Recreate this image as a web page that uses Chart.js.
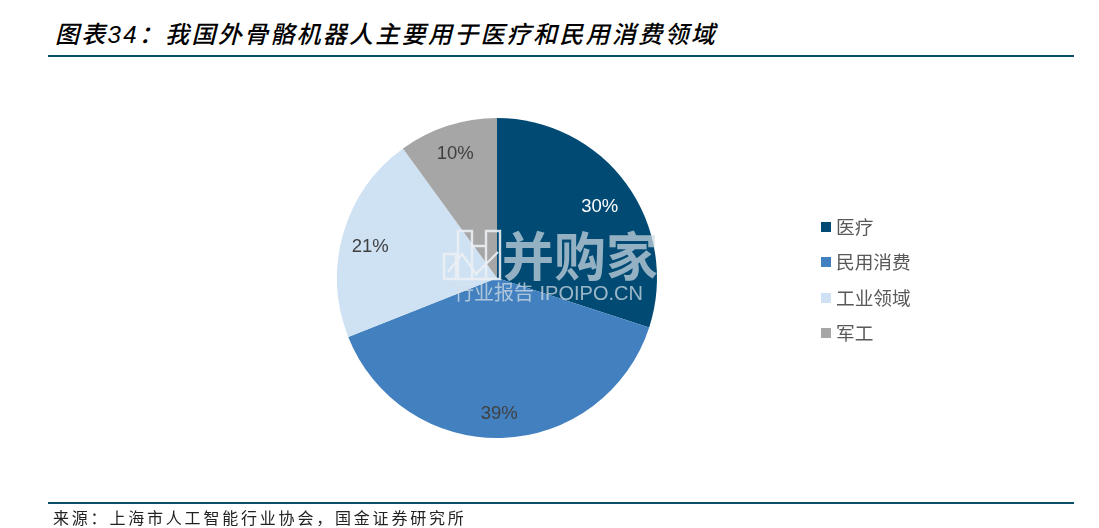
<!DOCTYPE html>
<html lang="zh"><head><meta charset="utf-8">
<script src="https://cdn.jsdelivr.net/npm/chart.js@4"></script>
<style>
html,body{margin:0;padding:0;background:#fff;width:1099px;height:528px;overflow:hidden}
body{position:relative;font-family:"Liberation Sans","Noto Sans CJK SC",sans-serif}
.abs{position:absolute;white-space:nowrap}
#title{left:55px;top:19px;font:italic 500 24px/32px "Liberation Sans","Noto Sans CJK SC";letter-spacing:2.28px;color:#000}
#r1{left:48px;top:55px;width:1026px;height:2px;background:#0b4f66}
#r2{left:48px;top:502px;width:1026px;height:2px;background:#0b4f66}
#source{left:53px;top:507px;font:400 16px/21px "Noto Sans CJK SC";letter-spacing:2.8px;color:#222}
#chartBox{left:0;top:0;width:1099px;height:528px}
#legend{left:821px;top:208px}
.li{position:absolute;left:0;height:36px;line-height:36px;font-size:18.7px;color:#595959;font-family:"Noto Sans CJK SC"}
.sw{position:absolute;left:0;top:14px;width:10px;height:10px}
.li span{margin-left:15px}
#wm1{left:502px;top:221px;font:700 52px/66px "Noto Sans CJK SC";color:rgba(205,218,226,.72)}
#wm2{left:454px;top:281px;font:400 20px/24px "Liberation Sans","Noto Sans CJK SC";color:rgba(215,225,232,.72)}
#wmIcon{left:442px;top:228px}
</style></head><body>
<div class="abs" id="title">图表34：我国外骨骼机器人主要用于医疗和民用消费领域</div>
<div class="abs" id="r1"></div>
<div class="abs" id="chartBox"><canvas id="c" width="1099" height="528"></canvas></div>
<div class="abs" id="legend"></div>
<svg class="abs" id="wmIcon" width="62" height="54" viewBox="0 0 62 54" fill="none" stroke="rgba(235,240,244,.9)" stroke-width="2.4">
<path d="M2 26h12v25H2zM16 3h14v48H16zM30 18h14v33H30zM44 3h14v48H44z"/><path d="M6 44l14-18 14 20 22-22"/></svg>
<div class="abs" id="wm1">并购家</div>
<div class="abs" id="wm2">行业报告 IPOIPO.CN</div>
<div class="abs" id="r2"></div>
<div class="abs" id="source">来源：上海市人工智能行业协会，国金证券研究所</div>
<script>
const categories = ["医疗","民用消费","工业领域","军工"];
const shares = [30,39,21,10];
const sliceColors = ["#004a74","#4280bf","#cfe2f3","#a6a6a6"];
const labelColors = ["#ffffff","#404040","#404040","#404040"];
const labelNudgeX = [-4,-2,0,-1];
const labelNudgeY = [6,4,6,1];

const pieLabels = {
  id:"pieLabels",
  afterDatasetsDraw(chart){
    const {ctx} = chart;
    const meta = chart.getDatasetMeta(0);
    ctx.save();
    ctx.font = '18.5px "Liberation Sans"';
    ctx.textAlign = "center";
    ctx.textBaseline = "middle";
    meta.data.forEach((arc,i)=>{
      const mid = (arc.startAngle+arc.endAngle)/2;
      const r = arc.outerRadius*0.825;
      ctx.fillStyle = labelColors[i];
      ctx.fillText(shares[i]+"%", arc.x+Math.cos(mid)*r+labelNudgeX[i], arc.y+Math.sin(mid)*r+labelNudgeY[i]);
    });
    ctx.restore();
  }
};

new Chart(document.getElementById("c"),{
  type:"pie",
  data:{labels:categories,datasets:[{data:shares,backgroundColor:sliceColors,borderWidth:0}]},
  options:{
    responsive:false,animation:false,
    layout:{padding:{left:337,right:442,top:118,bottom:90}},
    plugins:{legend:{display:false},tooltip:{enabled:false}}
  },
  plugins:[pieLabels]
});

const lg = document.getElementById("legend");
categories.forEach((name,i)=>{
  const d = document.createElement("div");
  d.className = "li";
  d.style.top = (i*35.4)+"px";
  d.innerHTML = '<div class="sw" style="background:'+sliceColors[i]+'"></div><span>'+name+'</span>';
  lg.appendChild(d);
});
</script>
</body></html>
